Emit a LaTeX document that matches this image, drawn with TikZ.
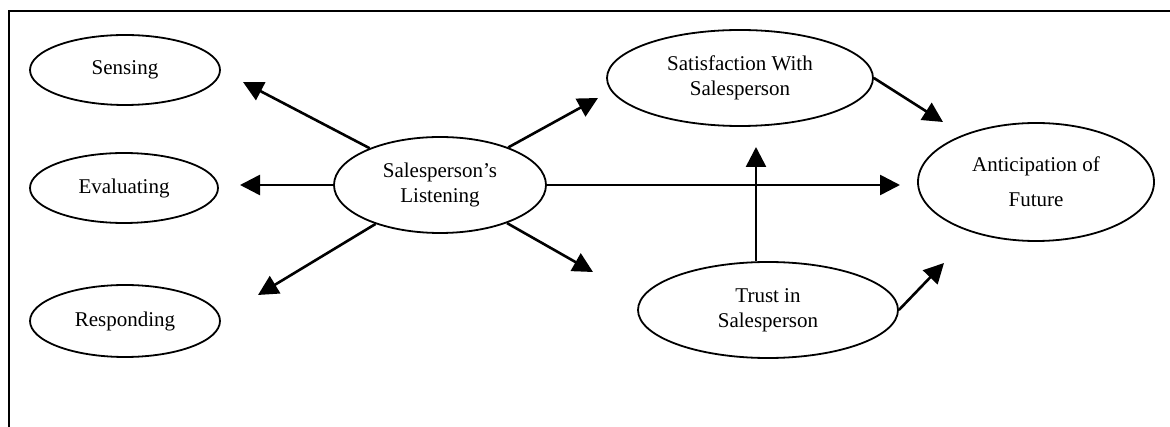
\documentclass[tikz,border=0pt]{standalone}
\usepackage{fontspec}
\setmainfont{Liberation Serif}
\usetikzlibrary{shapes.geometric,arrows.meta}
\begin{document}
\begin{tikzpicture}[x=1pt,y=-1pt,
  construct/.style={draw,ellipse,line width=1.8pt,inner sep=0pt,align=center,
    font=\fontsize{21}{25}\selectfont},
  arr/.style={line width=2.6pt,-{Triangle[length=20pt,width=20pt]}},
  frameline/.style={line width=1.8pt}]
\useasboundingbox (0,0) rectangle (1170,427);
% open frame: top and left edges
\draw[frameline] (1170,11) -- (9,11) -- (9,427);

% listening dimensions
\node[construct,minimum width=190pt,minimum height=70pt] (Se) at (125,70) {Sensing};
\node[construct,minimum width=188pt,minimum height=70pt] (Ev) at (124,188) {Evaluating};
\node[construct,minimum width=190pt,minimum height=72pt] (Re) at (125,321) {Responding};

% central and outcome constructs
\node[construct,minimum width=212pt,minimum height=96pt] (L) at (440,185) {Salesperson's\\Listening};
\node[construct,minimum width=266pt,minimum height=96pt] (S) at (740,78) {Satisfaction With\\Salesperson};
\node[construct,minimum width=260pt,minimum height=96pt] (T) at (768,310) {Trust in\\Salesperson};
\node[construct,minimum width=236pt,minimum height=118pt] (A) at (1036,182) {Anticipation of\\[10pt]Future};

% free arrow ends
\coordinate (tSe) at (243,82);
\coordinate (tEv) at (240,185);
\coordinate (tRe) at (258,295);
\coordinate (tUp) at (598,98);
\coordinate (tDn) at (593,272);
\coordinate (tA) at (900,185);
\coordinate (tST) at (756,147);
\coordinate (tSA) at (943,122);
\coordinate (tTA) at (944,263);

% connectors
\draw[arr] (L) -- (tSe);
\draw[arr] (L.west) -- (tEv);
\draw[arr] (L) -- (tRe);
\draw[arr] (L) -- (tUp);
\draw[arr] (L) -- (tDn);
\draw[arr] (L.east) -- (tA);
\draw[arr] (T.north -| tST) -- (tST);
\draw[arr] (S.east) -- (tSA);
\draw[arr] (T.east) -- (tTA);
\end{tikzpicture}
\end{document}
